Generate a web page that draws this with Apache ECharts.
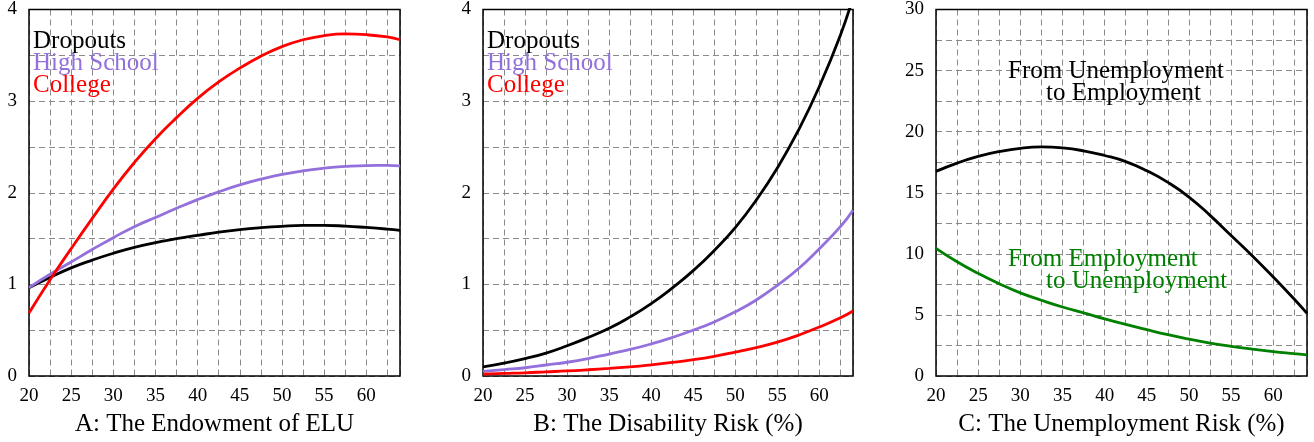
<!DOCTYPE html>
<html><head><meta charset="utf-8">
<script src="https://cdn.jsdelivr.net/npm/echarts@6/dist/echarts.min.js"></script>
<style>html,body{margin:0;padding:0;background:#fff}#c{width:1314px;height:442px}</style>
</head><body><div id="c"></div>
<script>
const ages = [20,22.5,25,27.5,30,32.5,35,37.5,40,42.5,45,47.5,50,52.5,55,57.5,60,62.5,64];
// Panel A: Endowment of ELU
const aDropouts = [0.964,1.075,1.18,1.265,1.34,1.405,1.455,1.50,1.535,1.57,1.598,1.619,1.634,1.643,1.644,1.636,1.621,1.603,1.59];
const aHighSchool = [0.964,1.11,1.245,1.38,1.51,1.63,1.73,1.83,1.925,2.01,2.085,2.148,2.20,2.24,2.268,2.287,2.297,2.298,2.294];
const aCollege = [0.687,1.05,1.39,1.72,2.04,2.33,2.59,2.82,3.03,3.21,3.36,3.49,3.595,3.67,3.715,3.733,3.725,3.70,3.67];
// Panel B: Disability risk (%)
const bDropouts = [0.10,0.14,0.19,0.25,0.33,0.42,0.52,0.645,0.79,0.96,1.15,1.37,1.62,1.92,2.27,2.68,3.16,3.72,4.13];
const bHighSchool = [0.05,0.07,0.09,0.12,0.15,0.19,0.24,0.29,0.35,0.42,0.50,0.59,0.70,0.83,0.99,1.17,1.39,1.63,1.81];
const bCollege = [0.02,0.028,0.035,0.045,0.055,0.068,0.083,0.10,0.122,0.148,0.178,0.215,0.26,0.31,0.37,0.445,0.535,0.635,0.71];
// Panel C: Unemployment risk (%)
const cUtoE = [16.75,17.43,17.97,18.37,18.64,18.75,18.67,18.43,18.05,17.55,16.8,15.85,14.65,13.15,11.5,9.85,8.1,6.28,5.13];
const cEtoU = [10.45,9.35,8.4,7.55,6.8,6.2,5.65,5.17,4.68,4.22,3.79,3.38,3.02,2.70,2.43,2.2,2.0,1.83,1.73];
const xTitles = ['A: The Endowment of ELU','B: The Disability Risk (%)','C: The Unemployment Risk (%)'];
const legendNames = ['Dropouts','High School','College'];

const FONT = 'Liberation Serif';
const colors = {black:'#000000', purple:'#9370DB', red:'#FF0000', green:'#008000'};
const pair = arr => ages.map((a,i)=>[a,arr[i]]);

const grids = [
  {left:29, top:6, width:371, height:371},
  {left:483, top:6, width:370, height:371},
  {left:936, top:6, width:371, height:371}
];
const split = {show:true, lineStyle:{color:'#8a8a8a', width:1, type:[6,4]}};
const xAxes = grids.map((g,i)=>({
  gridIndex:i, type:'value', min:20, max:64, interval:2.5,
  axisLine:{show:false}, axisTick:{show:false}, splitLine:split,
  axisLabel:{fontFamily:FONT, fontSize:19, color:'#000', margin:11,
    formatter:v=> (Math.abs(v%5)<1e-9 && v<=60) ? String(v) : ''},
  name:xTitles[i], nameLocation:'middle', nameGap:36,
  nameTextStyle:{fontFamily:FONT, fontSize:25, color:'#000'}
}));
const yAxes = [
  {max:4, interval:0.5, lab:1},
  {max:4, interval:0.5, lab:1},
  {max:30, interval:2.5, lab:5}
].map((c,i)=>({
  gridIndex:i, type:'value', min:0, max:c.max, interval:c.interval,
  axisLine:{show:false}, axisTick:{show:false}, splitLine:split,
  axisLabel:{fontFamily:FONT, fontSize:19, color:'#000', margin:12,
    formatter:v=> (Math.abs(v % c.lab)<1e-9) ? String(v) : ''}
}));
const mk = (name, data, color, idx) => ({
  name, type:'line', xAxisIndex:idx, yAxisIndex:idx, data:pair(data),
  smooth:0.5, showSymbol:false, clip:true, silent:true,
  lineStyle:{color, width:2.8}, itemStyle:{color}
});
const series = [
  mk('Dropouts', aDropouts, colors.black, 0),
  mk('High School', aHighSchool, colors.purple, 0),
  mk('College', aCollege, colors.red, 0),
  mk('Dropouts', bDropouts, colors.black, 1),
  mk('High School', bHighSchool, colors.purple, 1),
  mk('College', bCollege, colors.red, 1),
  mk('From Unemployment to Employment', cUtoE, colors.black, 2),
  mk('From Employment to Unemployment', cEtoU, colors.green, 2)
];
const txt = (x,y,text,fill) => ({type:'text', x, y, silent:true, z:10,
  style:{text, fill, font:'25px "'+FONT+'"', verticalAlign:'middle', textVerticalAlign:'middle', align:'left'}});
const legCols = [colors.black, colors.purple, colors.red];
const legY = [41, 63, 85];
const graphic = [];
[33, 487].forEach(x=>legendNames.forEach((n,k)=>graphic.push(txt(x, legY[k], n, legCols[k]))));
graphic.push(txt(1008, 71, 'From Unemployment', colors.black));
graphic.push(txt(1046, 93, 'to Employment', colors.black));
graphic.push(txt(1008, 259, 'From Employment', colors.green));
graphic.push(txt(1046, 281, 'to Unemployment', colors.green));

const chart = echarts.init(document.getElementById('c'), null, {renderer:'canvas'});
chart.setOption({
  animation:false, backgroundColor:'#fff',
  grid: grids.map(g=>Object.assign({show:true, borderColor:'#000', borderWidth:1.5, backgroundColor:'transparent', z:3}, g)),
  xAxis:xAxes, yAxis:yAxes, series, graphic
});
</script></body></html>
